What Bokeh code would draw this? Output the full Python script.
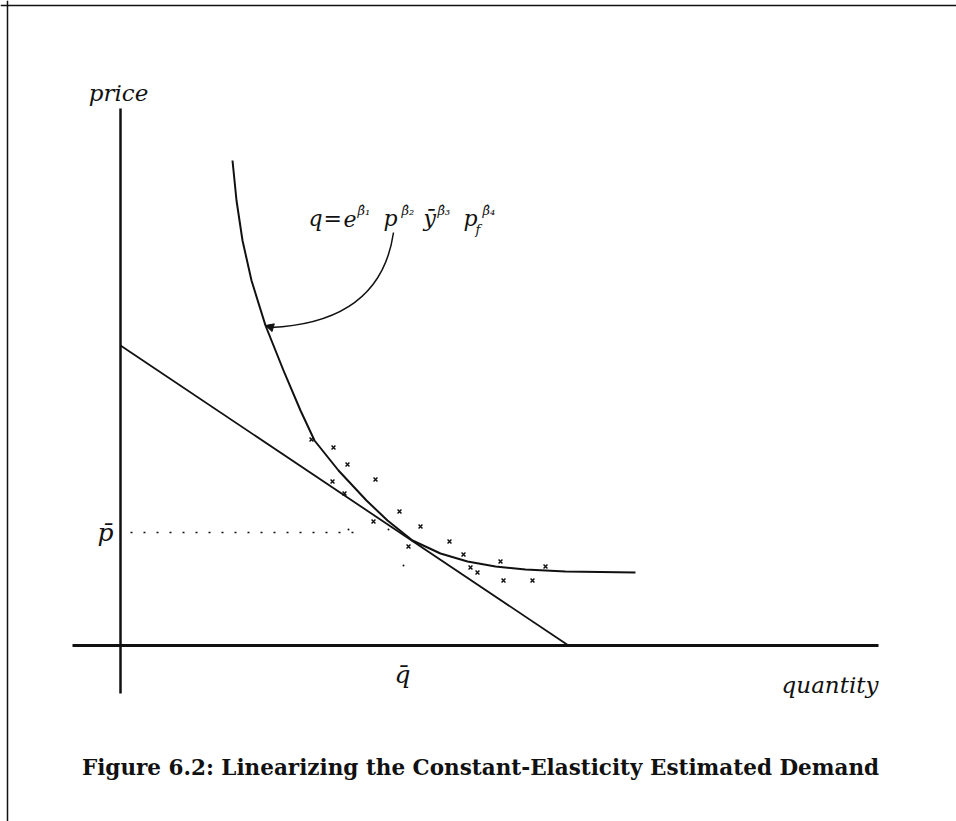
from bokeh.plotting import figure
from bokeh.models import Range1d, Span, Arrow, NormalHead
from bokeh.core.properties import value
from bokeh.embed import file_html
from bokeh.resources import INLINE

# ---------------- data (arbitrary units: quantity, price) ----------------
# constant-elasticity estimated demand curve
curve_q = [11.2, 11.6, 12.2, 13.1, 14.5, 16.3, 18.0, 19.4, 21.8, 24.6, 26.7,
           29.2, 32.0, 34.7, 37.5, 40.5, 44.5, 51.5]
curve_p = [48.5, 44.5, 40.5, 36.5, 32.0, 27.5, 23.5, 20.5, 17.5, 14.5, 12.5,
           10.5, 9.2, 8.4, 7.9, 7.6, 7.4, 7.3]

# linear approximation (tangent at the mean)
line_q = [0.0, 44.8]
line_p = [30.0, 0.0]

# observations
obs_q = [19.1, 21.3, 22.7, 21.2, 22.4, 25.5, 25.3, 27.9, 30.0, 28.8, 32.9,
         34.3, 35.0, 35.7, 38.0, 38.3, 41.2, 42.5]
obs_p = [20.6, 19.8, 18.1, 16.4, 15.2, 16.6, 12.4, 13.4, 11.9, 9.9, 10.4,
         9.1, 7.8, 7.3, 8.4, 6.5, 6.5, 7.9]
speck_q = [22.8, 26.8, 28.3]
speck_p = [11.6, 11.6, 8.0]

# means
q_bar = 29.0
p_bar = 11.3

# axis extents
x_axis_q = [-4.8, 75.8]
y_axis_p = [-4.8, 53.7]

# ---------------- figure ----------------
p = figure(width=956, height=821, output_backend="svg", toolbar_location=None,
           x_range=Range1d(-12.0, 83.6), y_range=Range1d(-17.6, 64.5),
           min_border=0, min_border_left=0, min_border_right=0,
           min_border_top=0, min_border_bottom=0)
p.axis.visible = False
p.grid.visible = False
p.outline_line_color = None
p.background_fill_color = "white"
p.border_fill_color = "white"

ink = "#111111"

# page frame (top and left rules of the scanned page)
p.add_layout(Span(location=64.0, dimension="width", line_color=ink, line_width=1.5))
p.add_layout(Span(location=-11.3, dimension="height", line_color=ink, line_width=1.5))

# axes
p.segment(x0=[x_axis_q[0]], y0=[0], x1=[x_axis_q[1]], y1=[0], line_color=ink, line_width=3)
p.segment(x0=[0], y0=[y_axis_p[0]], x1=[0], y1=[y_axis_p[1]], line_color=ink, line_width=2.5)

# dotted p-bar guide
p.segment(x0=[1.0], y0=[p_bar], x1=[q_bar - 5.5], y1=[p_bar], line_color=ink,
          line_width=1.5, line_dash="2 11")

# curves
p.line(curve_q, curve_p, line_color=ink, line_width=2, line_join="round")
p.line(line_q, line_p, line_color=ink, line_width=1.8)

# observations
p.scatter(obs_q, obs_p, marker="x", size=5.5, line_color=ink, line_width=1.5)
p.scatter(speck_q, speck_p, marker="circle", size=2, fill_color=ink, line_color=None)

# curved arrow from formula to curve
p.quadratic(x0=[27.3], y0=[41.3], x1=[15.0], y1=[31.8], cx=[26.0], cy=[32.3],
            line_color=ink, line_width=1.5)
p.add_layout(Arrow(end=NormalHead(size=8, fill_color=ink, line_color=ink),
                   x_start=15.2, y_start=31.8, x_end=14.5, y_end=32.0,
                   line_color=ink, line_width=1.5))

serif = value("DejaVu Serif")

# axis labels
p.text(x=[-0.2], y=[55.3], text=["price"], text_font=serif, text_font_style="italic",
       text_font_size="23px", text_align="center", text_baseline="middle", text_color=ink)
p.text(x=[75.8], y=[-3.9], text=["quantity"], text_font=serif, text_font_style="italic",
       text_font_size="23px", text_align="right", text_baseline="middle", text_color=ink)

# mean labels
p.text(x=[-0.7], y=[p_bar], text=["p\u0304"], text_font=serif, text_font_style="italic",
       text_font_size="25px", text_align="right", text_baseline="middle", text_color=ink)
p.text(x=[q_bar - 0.8], y=[-2.9], text=["q\u0304"], text_font=serif, text_font_style="italic",
       text_font_size="25px", text_align="center", text_baseline="middle", text_color=ink)

# formula: q = e^b1 p^b2 ybar^b3 p_f^b4
main_x = [18.8, 20.3, 22.3, 26.3, 30.3, 34.3]
main_y = [42.7, 42.7, 42.7, 42.7, 42.7, 42.7]
main_t = ["q", "=", "e", "p", "y\u0304", "p"]
p.text(x=main_x, y=main_y, text=main_t, text_font=serif, text_font_style="italic",
       text_font_size="22px", text_align="left", text_baseline="middle", text_color=ink)
sup_x = [23.7, 28.1, 31.7, 36.2]
sup_y = [43.5, 43.5, 43.5, 43.5]
sup_t = ["\u03b2\u0302\u2081", "\u03b2\u0302\u2082", "\u03b2\u0302\u2083", "\u03b2\u0302\u2084"]
p.text(x=sup_x, y=sup_y, text=sup_t, text_font=serif, text_font_style="italic",
       text_font_size="13px", text_align="left", text_baseline="middle", text_color=ink)
p.text(x=[35.5], y=[41.6], text=["f"], text_font=serif, text_font_style="italic",
       text_font_size="13px", text_align="left", text_baseline="middle", text_color=ink)

# caption
p.text(x=[36.0], y=[-12.2], text=["Figure 6.2: Linearizing the Constant-Elasticity Estimated Demand"],
       text_font=serif, text_font_style="bold", text_font_size="21.5px",
       text_align="center", text_baseline="middle", text_color=ink)

open("out.html", "w").write(file_html(p, INLINE))
